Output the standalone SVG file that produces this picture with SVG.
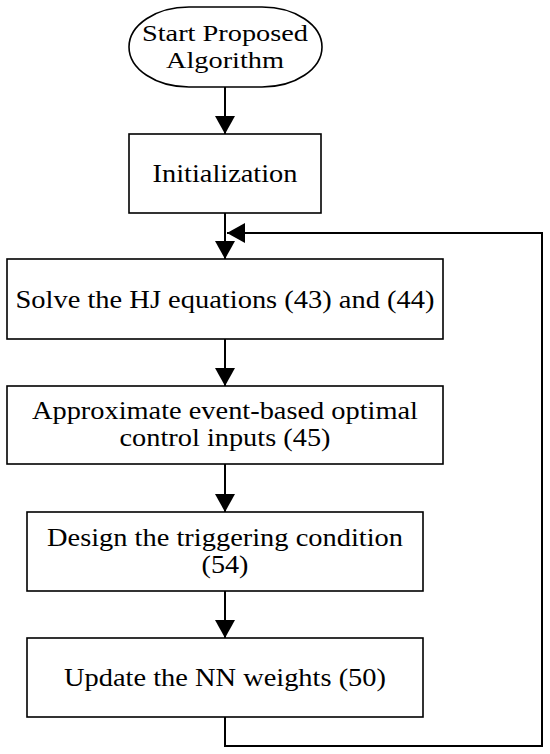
<svg xmlns="http://www.w3.org/2000/svg" width="550" height="754" viewBox="0 0 550 754">
<style>
.box{fill:#fff;stroke:#000;stroke-width:1.6}
.t{font-family:"Liberation Serif","Times New Roman",Times,serif;font-size:26px;fill:#000;text-anchor:middle}
.s{font-size:24px}
.c{fill:none;stroke:#000;stroke-width:2}
</style>
<defs>
<marker id="ah" markerUnits="userSpaceOnUse" markerWidth="18" markerHeight="20" refX="18" refY="10" orient="auto" viewBox="0 0 18 20">
<path d="M0,0 L18,10 L0,20 z" fill="#000"/>
</marker>
</defs>
<rect width="550" height="754" fill="#fff"/>
<g id="connectors">
<line class="c" x1="225" y1="87" x2="225" y2="134" marker-end="url(#ah)"/>
<line class="c" x1="225" y1="213" x2="225" y2="259" marker-end="url(#ah)"/>
<line class="c" x1="225" y1="339" x2="225" y2="386" marker-end="url(#ah)"/>
<line class="c" x1="225" y1="464" x2="225" y2="512" marker-end="url(#ah)"/>
<line class="c" x1="225" y1="591" x2="225" y2="638" marker-end="url(#ah)"/>
<polyline class="c" points="225,717 225,746 542,746 542,233 227,233" marker-end="url(#ah)"/>
</g>
<g id="start">
<rect class="box" x="129" y="7" width="193" height="80" rx="60" ry="40"/>
<text class="t s" x="225" y="41" textLength="166" lengthAdjust="spacingAndGlyphs">Start Proposed</text>
<text class="t s" x="225" y="68" textLength="118" lengthAdjust="spacingAndGlyphs">Algorithm</text>
</g>
<g id="init">
<rect class="box" x="129" y="134" width="192" height="79"/>
<text class="t" x="225" y="182" textLength="145" lengthAdjust="spacingAndGlyphs">Initialization</text>
</g>
<g id="solve">
<rect class="box" x="7" y="259" width="436" height="80"/>
<text class="t" x="225" y="308" textLength="419" lengthAdjust="spacingAndGlyphs">Solve the HJ equations (43) and (44)</text>
</g>
<g id="approx">
<rect class="box" x="7" y="386" width="436" height="78"/>
<text class="t" x="225" y="419" textLength="386" lengthAdjust="spacingAndGlyphs">Approximate event-based optimal</text>
<text class="t" x="225" y="446" textLength="211" lengthAdjust="spacingAndGlyphs">control inputs (45)</text>
</g>
<g id="design">
<rect class="box" x="27" y="512" width="396" height="79"/>
<text class="t" x="225" y="546" textLength="356" lengthAdjust="spacingAndGlyphs">Design the triggering condition</text>
<text class="t" x="225" y="573" textLength="47" lengthAdjust="spacingAndGlyphs">(54)</text>
</g>
<g id="update">
<rect class="box" x="27" y="638" width="396" height="79"/>
<text class="t" x="225" y="686" textLength="322" lengthAdjust="spacingAndGlyphs">Update the NN weights (50)</text>
</g>
</svg>
